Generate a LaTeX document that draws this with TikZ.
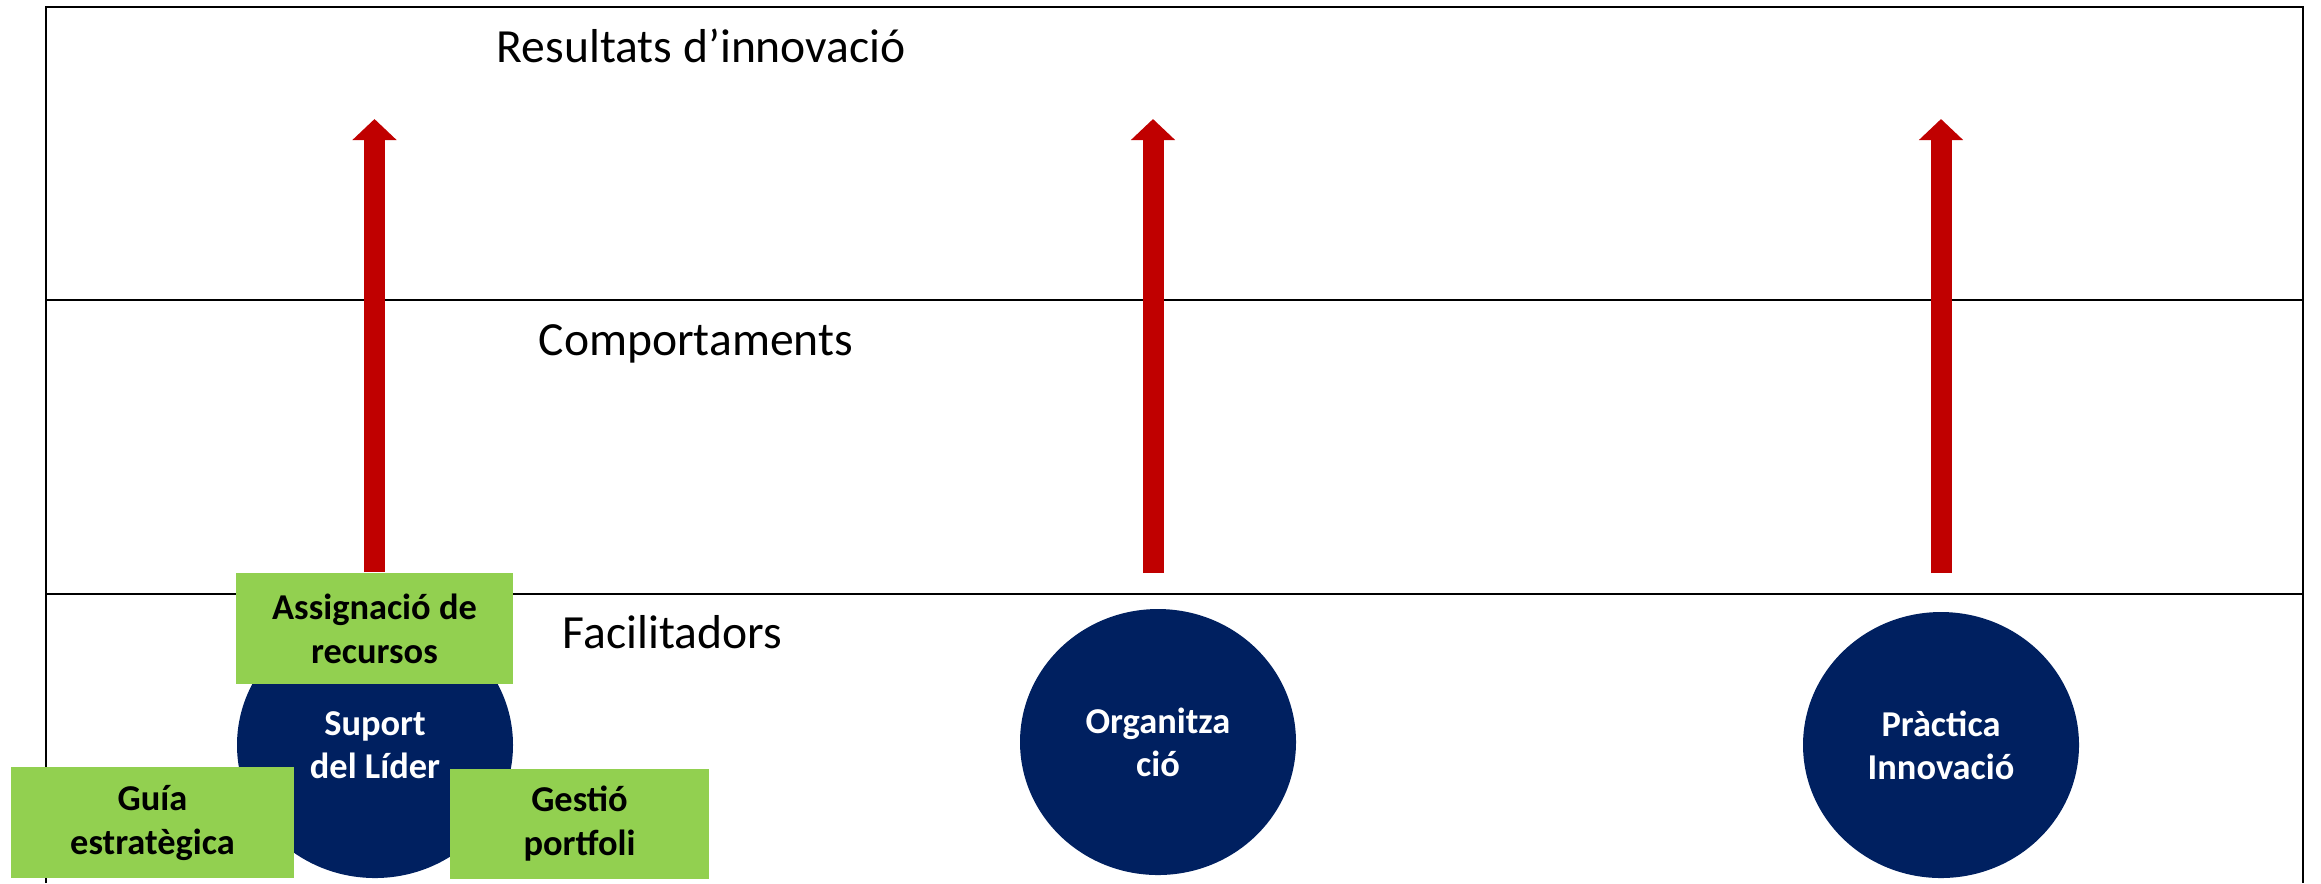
\documentclass[tikz,border=0pt]{standalone}
\usepackage{fontspec}
\setmainfont{Carlito}
\usetikzlibrary{arrows.meta,shapes.geometric}
\definecolor{navyblue}{HTML}{002060}
\definecolor{leafgreen}{HTML}{92D050}
\definecolor{arrowred}{HTML}{C00000}
\begin{document}
\begin{tikzpicture}[x=0.25pt,y=-0.25pt,
  frameline/.style={line width=0.5pt,draw=black},
  levellabel/.style={font=\fontsize{11.9}{14}\selectfont,anchor=base west,inner sep=0pt},
  pillar/.style={ellipse,fill=navyblue,text=white,minimum width=69pt,minimum height=66.5pt,inner sep=0pt,align=center,font=\fontsize{9.1}{10.8}\selectfont\bfseries},
  enabler/.style={rectangle,fill=leafgreen,text=black,inner sep=0pt,align=center,font=\fontsize{9.1}{11}\selectfont\bfseries},
  uparrow/.style={draw=arrowred,line width=5.25pt,-{Triangle[width=10.75pt,length=5.25pt]}}
]
\useasboundingbox (0,0) rectangle (2321,883);
% frame
\draw[frameline] (46,883) -- (46,7) -- (2303,7) -- (2303,883);
\draw[frameline] (46,300) -- (2303,300);
\draw[frameline] (46,594) -- (2303,594);
% level labels
\node[levellabel] (lres) at (496,62) {Resultats d’innovació};
\node[levellabel] (lcomp) at (538,355) {Comportaments};
\node[levellabel] (lfac) at (562,648) {Facilitadors};
% pillars
\node[pillar] (lider) at (375,745) {Suport\\del Líder};
\node[pillar] (org) at (1158,742) {Organitza\\ció};
\node[pillar] (prac) at (1941,745) {Pràctica\\Innovació};
% enablers
\node[enabler,minimum width=69.25pt,minimum height=27.75pt] (assig) at (374.5,628.5) {Assignació de\\recursos};
\node[enabler,minimum width=70.75pt,minimum height=27.75pt] (guia) at (152.5,822.5) {Guía\\estratègica};
\node[enabler,minimum width=64.75pt,minimum height=27.5pt] (gestio) at (579.5,824) {Gestió\\portfoli};
% arrow end points
\coordinate (t1) at (374.5,119);
\coordinate (b2) at (1153,573);
\coordinate (t2) at (1153,119);
\coordinate (b3) at (1941,573);
\coordinate (t3) at (1941,119);
\draw[uparrow] (assig.north) -- (t1);
\draw[uparrow] (b2) -- (t2);
\draw[uparrow] (b3) -- (t3);
\end{tikzpicture}
\end{document}
